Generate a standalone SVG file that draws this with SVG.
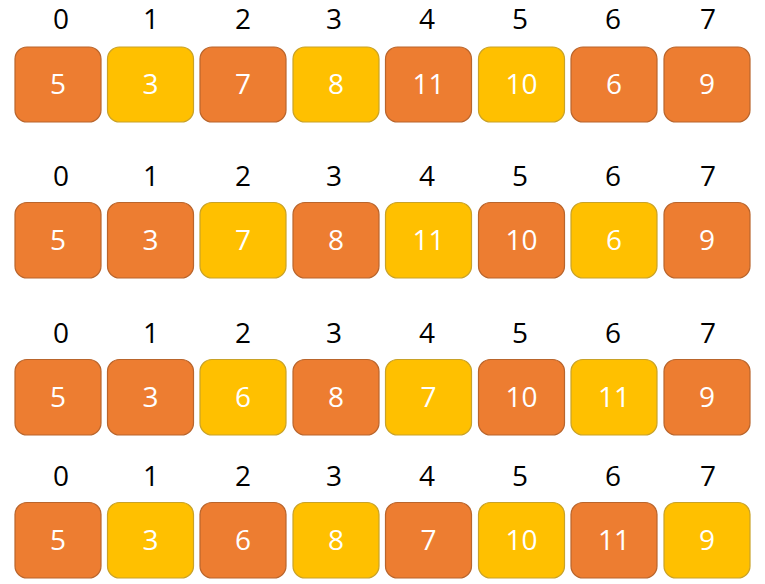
<svg xmlns="http://www.w3.org/2000/svg" width="765" height="584" viewBox="0 0 765 584">
<style>
.o{fill:#ED7D31;stroke:#B9652C;stroke-width:1.2}
.y{fill:#FFC000;stroke:#C9A227;stroke-width:1.2}
.v{font-family:"Open Sans","Liberation Sans",sans-serif;font-size:28px;fill:#FFFFFF;text-anchor:middle}
.i{font-family:"Open Sans","Liberation Sans",sans-serif;font-size:28px;fill:#000000;text-anchor:middle}
</style>
<rect width="765" height="584" fill="#FFFFFF"/>
<g id="labels">
<g id="labels-r1"><text class="i" x="61" y="29">0</text><text class="i" x="151" y="29">1</text><text class="i" x="243" y="29">2</text><text class="i" x="334" y="29">3</text><text class="i" x="427" y="29">4</text><text class="i" x="520" y="29">5</text><text class="i" x="613" y="29">6</text><text class="i" x="708" y="29">7</text></g>
<g id="labels-r2"><text class="i" x="61" y="186">0</text><text class="i" x="151" y="186">1</text><text class="i" x="243" y="186">2</text><text class="i" x="334" y="186">3</text><text class="i" x="427" y="186">4</text><text class="i" x="520" y="186">5</text><text class="i" x="613" y="186">6</text><text class="i" x="708" y="186">7</text></g>
<g id="labels-r3"><text class="i" x="61" y="343">0</text><text class="i" x="151" y="343">1</text><text class="i" x="243" y="343">2</text><text class="i" x="334" y="343">3</text><text class="i" x="427" y="343">4</text><text class="i" x="520" y="343">5</text><text class="i" x="613" y="343">6</text><text class="i" x="708" y="343">7</text></g>
<g id="labels-r4"><text class="i" x="61" y="486">0</text><text class="i" x="151" y="486">1</text><text class="i" x="243" y="486">2</text><text class="i" x="334" y="486">3</text><text class="i" x="427" y="486">4</text><text class="i" x="520" y="486">5</text><text class="i" x="613" y="486">6</text><text class="i" x="708" y="486">7</text></g>
</g>
<g id="row1">
<g id="r1c0"><rect class="o" x="15" y="47" width="86" height="75" rx="12"/><text class="v" x="58" y="94">5</text></g>
<g id="r1c1"><rect class="y" x="107.5" y="47" width="86" height="75" rx="12"/><text class="v" x="150.5" y="94">3</text></g>
<g id="r1c2"><rect class="o" x="200" y="47" width="86" height="75" rx="12"/><text class="v" x="243" y="94">7</text></g>
<g id="r1c3"><rect class="y" x="293" y="47" width="86" height="75" rx="12"/><text class="v" x="336" y="94">8</text></g>
<g id="r1c4"><rect class="o" x="385.5" y="47" width="86" height="75" rx="12"/><text class="v" x="428.5" y="94">11</text></g>
<g id="r1c5"><rect class="y" x="478.5" y="47" width="86" height="75" rx="12"/><text class="v" x="521.5" y="94">10</text></g>
<g id="r1c6"><rect class="o" x="571" y="47" width="86" height="75" rx="12"/><text class="v" x="614" y="94">6</text></g>
<g id="r1c7"><rect class="o" x="664" y="47" width="86" height="75" rx="12"/><text class="v" x="707" y="94">9</text></g>
</g>
<g id="row2">
<g id="r2c0"><rect class="o" x="15" y="202.5" width="86" height="75.5" rx="12"/><text class="v" x="58" y="250">5</text></g>
<g id="r2c1"><rect class="o" x="107.5" y="202.5" width="86" height="75.5" rx="12"/><text class="v" x="150.5" y="250">3</text></g>
<g id="r2c2"><rect class="y" x="200" y="202.5" width="86" height="75.5" rx="12"/><text class="v" x="243" y="250">7</text></g>
<g id="r2c3"><rect class="o" x="293" y="202.5" width="86" height="75.5" rx="12"/><text class="v" x="336" y="250">8</text></g>
<g id="r2c4"><rect class="y" x="385.5" y="202.5" width="86" height="75.5" rx="12"/><text class="v" x="428.5" y="250">11</text></g>
<g id="r2c5"><rect class="o" x="478.5" y="202.5" width="86" height="75.5" rx="12"/><text class="v" x="521.5" y="250">10</text></g>
<g id="r2c6"><rect class="y" x="571" y="202.5" width="86" height="75.5" rx="12"/><text class="v" x="614" y="250">6</text></g>
<g id="r2c7"><rect class="o" x="664" y="202.5" width="86" height="75.5" rx="12"/><text class="v" x="707" y="250">9</text></g>
</g>
<g id="row3">
<g id="r3c0"><rect class="o" x="15" y="359.5" width="86" height="75.5" rx="12"/><text class="v" x="58" y="407">5</text></g>
<g id="r3c1"><rect class="o" x="107.5" y="359.5" width="86" height="75.5" rx="12"/><text class="v" x="150.5" y="407">3</text></g>
<g id="r3c2"><rect class="y" x="200" y="359.5" width="86" height="75.5" rx="12"/><text class="v" x="243" y="407">6</text></g>
<g id="r3c3"><rect class="o" x="293" y="359.5" width="86" height="75.5" rx="12"/><text class="v" x="336" y="407">8</text></g>
<g id="r3c4"><rect class="y" x="385.5" y="359.5" width="86" height="75.5" rx="12"/><text class="v" x="428.5" y="407">7</text></g>
<g id="r3c5"><rect class="o" x="478.5" y="359.5" width="86" height="75.5" rx="12"/><text class="v" x="521.5" y="407">10</text></g>
<g id="r3c6"><rect class="y" x="571" y="359.5" width="86" height="75.5" rx="12"/><text class="v" x="614" y="407">11</text></g>
<g id="r3c7"><rect class="o" x="664" y="359.5" width="86" height="75.5" rx="12"/><text class="v" x="707" y="407">9</text></g>
</g>
<g id="row4">
<g id="r4c0"><rect class="o" x="15" y="502.5" width="86" height="75.5" rx="12"/><text class="v" x="58" y="550">5</text></g>
<g id="r4c1"><rect class="y" x="107.5" y="502.5" width="86" height="75.5" rx="12"/><text class="v" x="150.5" y="550">3</text></g>
<g id="r4c2"><rect class="o" x="200" y="502.5" width="86" height="75.5" rx="12"/><text class="v" x="243" y="550">6</text></g>
<g id="r4c3"><rect class="y" x="293" y="502.5" width="86" height="75.5" rx="12"/><text class="v" x="336" y="550">8</text></g>
<g id="r4c4"><rect class="o" x="385.5" y="502.5" width="86" height="75.5" rx="12"/><text class="v" x="428.5" y="550">7</text></g>
<g id="r4c5"><rect class="y" x="478.5" y="502.5" width="86" height="75.5" rx="12"/><text class="v" x="521.5" y="550">10</text></g>
<g id="r4c6"><rect class="o" x="571" y="502.5" width="86" height="75.5" rx="12"/><text class="v" x="614" y="550">11</text></g>
<g id="r4c7"><rect class="y" x="664" y="502.5" width="86" height="75.5" rx="12"/><text class="v" x="707" y="550">9</text></g>
</g>
<g id="connectors"/>
</svg>
